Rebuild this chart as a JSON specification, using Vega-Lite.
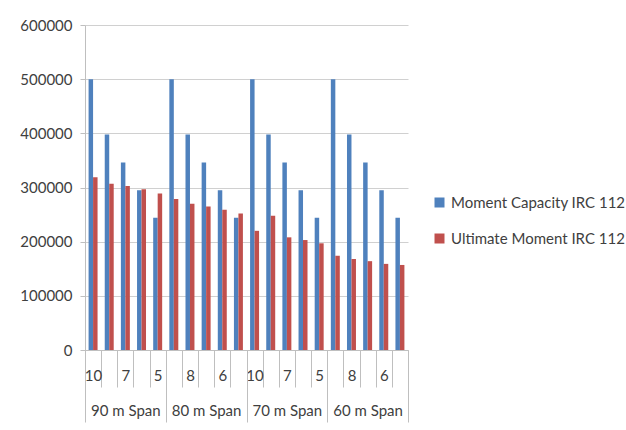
{
  "$schema": "https://vega.github.io/schema/vega-lite/v6.json",
  "width": 323,
  "height": 325,
  "autosize": {"type": "none"},
  "padding": {"left": 85, "top": 25, "right": 218, "bottom": 80},
  "background": "white",
  "config": {
    "view": {"stroke": null},
    "font": "Lato",
    "axis": {"labelFont": "Lato", "labelFontSize": 15, "labelColor": "#404040", "domainColor": "#bfbfbf", "tickColor": "#bfbfbf", "gridColor": "#d0d0d0"},
    "legend": {"labelFont": "Lato", "labelFontSize": 15, "labelColor": "#404040", "labelLimit": 400}
  },
  "resolve": {"scale": {"x": "independent"}, "axis": {"x": "independent"}},
  "layer": [
    {
      "data": {"values": [
        {"span": "90 m Span", "cat": "10", "series": "Moment Capacity IRC 112", "value": 500000},
        {"span": "90 m Span", "cat": "10", "series": "Ultimate Moment IRC 112", "value": 319000},
        {"span": "90 m Span", "cat": "8", "series": "Moment Capacity IRC 112", "value": 398000},
        {"span": "90 m Span", "cat": "8", "series": "Ultimate Moment IRC 112", "value": 307000},
        {"span": "90 m Span", "cat": "7", "series": "Moment Capacity IRC 112", "value": 346000},
        {"span": "90 m Span", "cat": "7", "series": "Ultimate Moment IRC 112", "value": 303000},
        {"span": "90 m Span", "cat": "6", "series": "Moment Capacity IRC 112", "value": 295000},
        {"span": "90 m Span", "cat": "6", "series": "Ultimate Moment IRC 112", "value": 297000},
        {"span": "90 m Span", "cat": "5", "series": "Moment Capacity IRC 112", "value": 244000},
        {"span": "90 m Span", "cat": "5", "series": "Ultimate Moment IRC 112", "value": 289000},
        {"span": "80 m Span", "cat": "10", "series": "Moment Capacity IRC 112", "value": 500000},
        {"span": "80 m Span", "cat": "10", "series": "Ultimate Moment IRC 112", "value": 279000},
        {"span": "80 m Span", "cat": "8", "series": "Moment Capacity IRC 112", "value": 398000},
        {"span": "80 m Span", "cat": "8", "series": "Ultimate Moment IRC 112", "value": 270000},
        {"span": "80 m Span", "cat": "7", "series": "Moment Capacity IRC 112", "value": 346000},
        {"span": "80 m Span", "cat": "7", "series": "Ultimate Moment IRC 112", "value": 265000},
        {"span": "80 m Span", "cat": "6", "series": "Moment Capacity IRC 112", "value": 295000},
        {"span": "80 m Span", "cat": "6", "series": "Ultimate Moment IRC 112", "value": 259000},
        {"span": "80 m Span", "cat": "5", "series": "Moment Capacity IRC 112", "value": 244000},
        {"span": "80 m Span", "cat": "5", "series": "Ultimate Moment IRC 112", "value": 252000},
        {"span": "70 m Span", "cat": "10", "series": "Moment Capacity IRC 112", "value": 500000},
        {"span": "70 m Span", "cat": "10", "series": "Ultimate Moment IRC 112", "value": 220000},
        {"span": "70 m Span", "cat": "8", "series": "Moment Capacity IRC 112", "value": 398000},
        {"span": "70 m Span", "cat": "8", "series": "Ultimate Moment IRC 112", "value": 248000},
        {"span": "70 m Span", "cat": "7", "series": "Moment Capacity IRC 112", "value": 346000},
        {"span": "70 m Span", "cat": "7", "series": "Ultimate Moment IRC 112", "value": 208000},
        {"span": "70 m Span", "cat": "6", "series": "Moment Capacity IRC 112", "value": 295000},
        {"span": "70 m Span", "cat": "6", "series": "Ultimate Moment IRC 112", "value": 203000},
        {"span": "70 m Span", "cat": "5", "series": "Moment Capacity IRC 112", "value": 244000},
        {"span": "70 m Span", "cat": "5", "series": "Ultimate Moment IRC 112", "value": 197000},
        {"span": "60 m Span", "cat": "10", "series": "Moment Capacity IRC 112", "value": 500000},
        {"span": "60 m Span", "cat": "10", "series": "Ultimate Moment IRC 112", "value": 174000},
        {"span": "60 m Span", "cat": "8", "series": "Moment Capacity IRC 112", "value": 398000},
        {"span": "60 m Span", "cat": "8", "series": "Ultimate Moment IRC 112", "value": 168000},
        {"span": "60 m Span", "cat": "7", "series": "Moment Capacity IRC 112", "value": 346000},
        {"span": "60 m Span", "cat": "7", "series": "Ultimate Moment IRC 112", "value": 164000},
        {"span": "60 m Span", "cat": "6", "series": "Moment Capacity IRC 112", "value": 295000},
        {"span": "60 m Span", "cat": "6", "series": "Ultimate Moment IRC 112", "value": 159000},
        {"span": "60 m Span", "cat": "5", "series": "Moment Capacity IRC 112", "value": 244000},
        {"span": "60 m Span", "cat": "5", "series": "Ultimate Moment IRC 112", "value": 157000}
      ]},
      "transform": [{"calculate": "slice(datum.span, 0, 2) + '|' + datum.cat", "as": "k"}],
      "mark": {"type": "bar"},
      "encoding": {
        "x": {
          "field": "k", "type": "nominal", "sort": null,
          "scale": {"paddingInner": 0, "paddingOuter": 0},
          "axis": {
            "title": null, "orient": "bottom", "tickBand": "extent", "tickSize": 37, "labelPadding": -19,
            "labelAngle": 0, "labelOverlap": false,
            "labelExpr": "indexof(['90|10','90|7','90|5','80|8','80|6','70|10','70|7','70|5','60|8','60|6'], datum.value) >= 0 ? split(datum.value, '|')[1] : ''"
          }
        },
        "xOffset": {
          "field": "series", "type": "nominal",
          "sort": ["Moment Capacity IRC 112", "Ultimate Moment IRC 112"],
          "scale": {"paddingInner": 0, "paddingOuter": 0.8}
        },
        "y": {
          "field": "value", "type": "quantitative",
          "scale": {"domain": [0, 600000]},
          "axis": {"title": null, "values": [0, 100000, 200000, 300000, 400000, 500000, 600000], "format": "d", "grid": true, "tickSize": 5, "labelPadding": 8}
        },
        "color": {
          "field": "series", "type": "nominal",
          "scale": {"domain": ["Moment Capacity IRC 112", "Ultimate Moment IRC 112"], "range": ["#4F81BD", "#C0504D"]},
          "legend": {"title": null, "orient": "none", "legendX": 347, "legendY": 170, "symbolType": "square", "symbolSize": 100, "symbolStrokeWidth": 0, "rowPadding": 20, "labelOffset": 4, "labelLimit": 400}
        }
      }
    },
    {
      "data": {"values": [
        {"span": "90 m Span"},
        {"span": "80 m Span"},
        {"span": "70 m Span"},
        {"span": "60 m Span"}
      ]},
      "mark": {"type": "rule", "opacity": 0},
      "encoding": {
        "x": {
          "field": "span", "type": "nominal", "sort": null,
          "scale": {"paddingInner": 0, "paddingOuter": 0},
          "axis": {"title": null, "orient": "bottom", "tickBand": "extent", "tickSize": 72, "labelPadding": -19, "labelAngle": 0, "labelOverlap": false, "domain": false}
        }
      }
    }
  ]
}
